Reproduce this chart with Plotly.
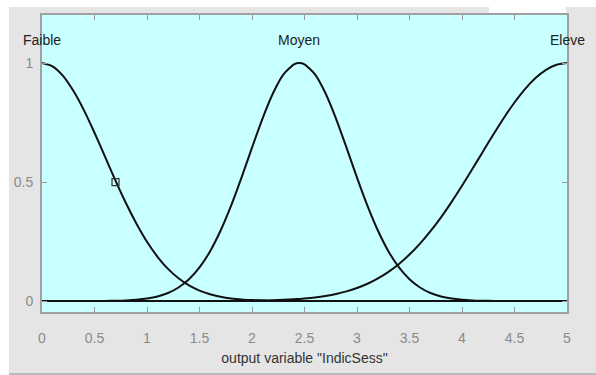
import plotly.graph_objects as go

# membership-function values
x_vals = [0.0, 0.1, 0.2, 0.3, 0.4, 0.5, 0.6, 0.7, 0.8, 0.9,
          1.0, 1.1, 1.2, 1.3, 1.4, 1.5, 1.6, 1.7, 1.8, 1.9,
          2.0, 2.1, 2.2, 2.3, 2.4, 2.45, 2.5, 2.6, 2.7, 2.8, 2.9,
          3.0, 3.1, 3.2, 3.3, 3.4, 3.5, 3.6, 3.7, 3.8, 3.9,
          4.0, 4.1, 4.2, 4.3, 4.4, 4.5, 4.6, 4.7, 4.8, 4.9, 5.0]
faible = [1.0, 0.986, 0.946, 0.882, 0.801, 0.707, 0.607, 0.506, 0.411, 0.325,
          0.249, 0.186, 0.135, 0.0957, 0.0657, 0.0439, 0.0286, 0.0181, 0.0111, 0.0066,
          0.0039, 0.0022, 0.0012, 0.0006, 0.0003, 0.0002, 0.0002, 0, 0, 0, 0,
          0, 0, 0, 0, 0, 0, 0, 0, 0, 0,
          0, 0, 0, 0, 0, 0, 0, 0, 0, 0, 0]
moyen = [0, 0, 0, 0, 0.0001, 0.0003, 0.0006, 0.0013, 0.0027, 0.0055,
         0.0105, 0.0192, 0.0337, 0.0568, 0.0915, 0.1412, 0.2086, 0.2952, 0.3999, 0.5188,
         0.6445, 0.7666, 0.8732, 0.9524, 0.9946, 1.0, 0.9946, 0.9524, 0.8732, 0.7666, 0.6445,
         0.5188, 0.3999, 0.2952, 0.2086, 0.1412, 0.0915, 0.0568, 0.0337, 0.0192, 0.0105,
         0.0055, 0.0027, 0.0013, 0.0006, 0.0003, 0.0001, 0, 0, 0, 0, 0]
eleve = [0, 0, 0, 0, 0, 0, 0, 0, 0, 0,
         0, 0, 0, 0, 0, 0.0001, 0.0002, 0.0004, 0.0006, 0.0009,
         0.0015, 0.0022, 0.0034, 0.0050, 0.0074, 0.0089, 0.0107, 0.0153, 0.0215, 0.0298, 0.0407,
         0.0549, 0.0728, 0.0953, 0.1228, 0.1560, 0.1954, 0.2411, 0.2934, 0.3517, 0.4156,
         0.4840, 0.5555, 0.6285, 0.7007, 0.7701, 0.8341, 0.8904, 0.9368, 0.9714, 0.9928, 1.0]
baseline_x = [0, 5]
baseline_y = [0, 0]
mf_names = ["Faible", "Moyen", "Eleve"]
mf_label_x = [0, 2.45, 5]
marker_x = [0.7]
marker_y = [0.5]
x_ticks = [0, 0.5, 1, 1.5, 2, 2.5, 3, 3.5, 4, 4.5, 5]
x_tick_text = ["0", "0.5", "1", "1.5", "2", "2.5", "3", "3.5", "4", "4.5", "5"]
y_ticks = [0, 0.5, 1]
y_tick_text = ["0", "0.5", "1"]

fig = go.Figure()
for ys in (faible, moyen, eleve):
    fig.add_trace(go.Scatter(x=x_vals, y=ys, mode="lines",
                             line=dict(color="#111111", width=2, shape="spline", smoothing=0.6),
                             hoverinfo="skip", showlegend=False))
fig.add_trace(go.Scatter(x=baseline_x, y=baseline_y, mode="lines",
                         line=dict(color="#111111", width=2), showlegend=False))
fig.add_trace(go.Scatter(x=marker_x, y=marker_y, mode="markers",
                         marker=dict(symbol="square-open", size=7, color="#333333",
                                     line=dict(width=1.2, color="#333333")),
                         showlegend=False))

for name, xv in zip(mf_names, mf_label_x):
    fig.add_annotation(x=xv, y=1.097, xref="x", yref="y", text=name, showarrow=False,
                       font=dict(family="Liberation Sans", size=14, color="#222222"),
                       xanchor="center", yanchor="middle")

W, H = 596, 375
def px_rect(x0, y0, x1, y1, color):
    return dict(type="rect", xref="paper", yref="paper",
                x0=(x0 - 42) / 525, x1=(x1 - 42) / 525,
                y0=(312 - y1) / 297, y1=(312 - y0) / 297,
                fillcolor=color, line_width=0, layer="below")
fig.update_layout(shapes=[
    px_rect(0, 0, 596, 7, "white"),
    px_rect(0, 0, 9, 375, "white"),
    px_rect(489, 0, 566, 13, "white"),
    px_rect(9, 373, 596, 375, "#bbbbbb"),
])

axis_common = dict(showgrid=False, zeroline=False, ticks="inside", ticklen=5,
                   tickcolor="#999999", mirror="ticks", showline=True,
                   linecolor="#a0a0a0", linewidth=2,
                   tickfont=dict(family="Liberation Sans", size=14, color="#8a8a8a"))

fig.update_layout(
    width=W, height=H,
    margin=dict(l=42, r=29, t=15, b=63),
    paper_bgcolor="#e5e5e5",
    plot_bgcolor="#c8ffff",
    xaxis=dict(range=[0, 5], tickvals=x_ticks, ticktext=x_tick_text,
               ticklabelstandoff=12,
               title=dict(text='output variable "IndicSess"', standoff=8,
                          font=dict(family="Liberation Sans", size=14, color="#333333")),
               **axis_common),
    yaxis=dict(range=[-0.046, 1.2017], tickvals=y_ticks, ticktext=y_tick_text,
               ticklabelstandoff=4, **axis_common),
)

fig.write_html("out.html")
